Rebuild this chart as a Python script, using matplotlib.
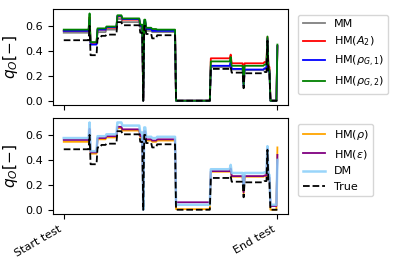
import numpy as np
import matplotlib
matplotlib.use("Agg")
import matplotlib.pyplot as plt

# segment lengths (samples) of the piecewise test record
seg_len = [26, 1, 7, 4, 5, 11, 5, 18, 3, 1, 2, 6, 5, 19, 35, 20, 1, 12, 1, 20, 3, 1, 2, 7, 1]

# levels per segment for each model
mm = [0.545, 0.63, 0.46, 0.55, 0.55, 0.57, 0.655, 0.63, 0.58, 0.0, 0.62, 0.56, 0.55, 0.55, 0.0,
      0.27, 0.30, 0.25, 0.12, 0.245, 0.255, 0.49, 0.23, 0.0, 0.43]
hm_a2 = [0.56, 0.67, 0.465, 0.57, 0.57, 0.585, 0.675, 0.65, 0.60, 0.0, 0.63, 0.575, 0.565, 0.565, 0.0,
         0.34, 0.37, 0.30, 0.14, 0.30, 0.31, 0.51, 0.27, 0.0, 0.44]
hm_rg1 = [0.56, 0.65, 0.45, 0.57, 0.57, 0.59, 0.68, 0.655, 0.60, 0.0, 0.64, 0.575, 0.56, 0.56, 0.0,
          0.28, 0.31, 0.255, 0.12, 0.25, 0.26, 0.50, 0.24, 0.0, 0.44]
hm_rg2 = [0.57, 0.70, 0.47, 0.58, 0.58, 0.595, 0.685, 0.66, 0.61, 0.0, 0.65, 0.585, 0.575, 0.57, 0.0,
          0.315, 0.35, 0.28, 0.13, 0.28, 0.29, 0.515, 0.25, 0.0, 0.45]
hm_rho = [0.545, 0.64, 0.45, 0.565, 0.565, 0.58, 0.655, 0.635, 0.58, 0.0, 0.62, 0.555, 0.545, 0.555, 0.005,
          0.305, 0.33, 0.265, 0.13, 0.265, 0.27, 0.48, 0.25, 0.0, 0.50]
hm_eps = [0.56, 0.65, 0.46, 0.575, 0.575, 0.59, 0.665, 0.645, 0.59, 0.0, 0.63, 0.565, 0.555, 0.565, 0.06,
          0.31, 0.33, 0.27, 0.14, 0.27, 0.275, 0.49, 0.26, 0.03, 0.44]
dm = [0.575, 0.70, 0.47, 0.59, 0.59, 0.605, 0.70, 0.675, 0.62, 0.0, 0.66, 0.585, 0.575, 0.585, 0.04,
      0.325, 0.36, 0.295, 0.17, 0.295, 0.30, 0.51, 0.28, 0.04, 0.40]
true = [0.485, 0.60, 0.365, 0.50, 0.52, 0.53, 0.63, 0.605, 0.545, 0.0, 0.60, 0.535, 0.50, 0.525, 0.0,
        0.255, 0.27, 0.225, 0.10, 0.22, 0.23, 0.48, 0.22, 0.0, 0.0]

tick_labels = ["Start test", "End test"]


def expand(levels):
    return np.repeat(levels, seg_len)


t = np.arange(sum(seg_len))

fig = plt.figure(figsize=(3.99, 2.66), dpi=100)
ax1 = fig.add_axes([0.133, 0.605, 0.589, 0.361])
ax2 = fig.add_axes([0.133, 0.195, 0.589, 0.361])

lw = 1.3
ax1.plot(t, expand(mm), color="gray", lw=lw, label="MM")
ax1.plot(t, expand(hm_a2), color="red", lw=lw, label="HM($A_2$)")
ax1.plot(t, expand(hm_rg1), color="blue", lw=lw, label=r"HM($\rho_{G,1}$)")
ax1.plot(t, expand(hm_rg2), color="green", lw=lw, label=r"HM($\rho_{G,2}$)")
ax1.plot(t, expand(true), "k--", lw=lw)

ax2.plot(t, expand(hm_rho), color="orange", lw=lw, label=r"HM($\rho$)")
ax2.plot(t, expand(hm_eps), color="purple", lw=lw, label=r"HM($\epsilon$)")
ax2.plot(t, expand(dm), color="lightskyblue", lw=1.8, alpha=0.85, label="DM")
ax2.plot(t, expand(true), "k--", lw=lw, label="True")

for ax in (ax1, ax2):
    ax.set_yticks([0.0, 0.2, 0.4, 0.6])
    ax.tick_params(labelsize=8)
    ax.set_ylabel("$q_O[-]$", fontsize=11)
    ax.set_xticks([t[0], t[-1]])
    ax.legend(loc="upper left", bbox_to_anchor=(1.043, 0.94), borderaxespad=0, fontsize=8)

ax1.set_xticklabels([])
ax2.set_xticklabels(tick_labels, rotation=30, ha="right", fontsize=8)

fig.savefig("out.png", dpi=100)
